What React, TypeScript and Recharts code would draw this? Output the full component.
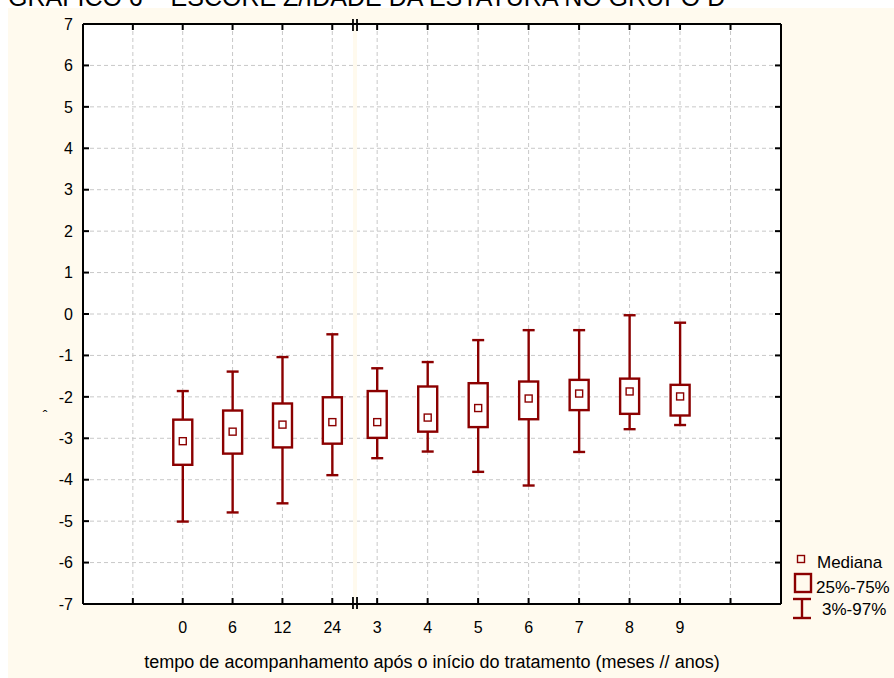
import React from 'react';
import { Bar, CartesianGrid, ComposedChart, ReferenceArea, ReferenceLine, XAxis, YAxis } from 'recharts';

// categorias do eixo x: meses (antes da quebra) e anos (depois)
const mesesLabels = ['0', '6', '12', '24'];
const anosLabels = ['3', '4', '5', '6', '7', '8', '9'];

// escore Z por tempo de acompanhamento
const minimos = [-5.01, -4.79, -4.57, -3.89, -3.48, -3.32, -3.81, -4.14, -3.33, -2.78, -2.68];
const quartil1 = [-3.64, -3.37, -3.22, -3.13, -2.99, -2.84, -2.73, -2.54, -2.32, -2.41, -2.45];
const medianas = [-3.07, -2.84, -2.67, -2.61, -2.61, -2.5, -2.27, -2.04, -1.92, -1.87, -1.99];
const quartil3 = [-2.55, -2.33, -2.16, -2.01, -1.86, -1.75, -1.67, -1.63, -1.59, -1.56, -1.71];
const maximos = [-1.86, -1.39, -1.04, -0.49, -1.31, -1.16, -0.63, -0.39, -0.39, -0.03, -0.21];

const yTicks = [-7, -6, -5, -4, -3, -2, -1, 0, 1, 2, 3, 4, 5, 6, 7];

const TITLE = 'GRÁFICO 6 – ESCORE Z/IDADE DA ESTATURA NO GRUPO D';
const X_LABEL = 'tempo de acompanhamento após o início do tratamento (meses // anos)';

const RED = '#8B0000';
const CREAM = '#FFFAEE';
const FONT = '"Liberation Sans", Arial, sans-serif';

// geometria do gráfico
const W = 894;
const H = 678;
const MARGIN = { top: 24, right: 103, bottom: 44, left: 43 };
const Y_AXIS_W = 40;
const Y_AXIS_R_W = 10;
const X_AXIS_H = 30;
const PLOT = {
  left: MARGIN.left + Y_AXIS_W,
  top: MARGIN.top,
  width: W - MARGIN.left - Y_AXIS_W - MARGIN.right - Y_AXIS_R_W,
  height: H - MARGIN.top - MARGIN.bottom - X_AXIS_H,
};

// posições no eixo numérico (a quebra encurta um pouco o intervalo 24 -> 3)
const posMeses = (i: number) => i + 2;
const posAnos = (j: number) => 5.9 + j * 1.0125;
const BREAK_X1 = 5.415;
const BREAK_X2 = 5.496;

const labels = [...mesesLabels, ...anosLabels];
const positions = [...mesesLabels.map((_, i) => posMeses(i)), ...anosLabels.map((_, j) => posAnos(j))];
const xTicks = [1, ...positions, posAnos(7)];
const tickLabel = new Map(positions.map((p, i) => [p, labels[i]]));

const data = labels.map((label, i) => ({
  pos: positions[i],
  label,
  range: [minimos[i], maximos[i]],
  min: minimos[i],
  q1: quartil1[i],
  median: medianas[i],
  q3: quartil3[i],
  max: maximos[i],
}));

const BoxShape = (props: any) => {
  const { x, y, width, height, payload } = props;
  const top = Math.min(y, y + height);
  const h = Math.abs(height);
  const { min, q1, median, q3, max } = payload;
  const py = (v: number) => top + ((max - v) / (max - min)) * h;
  const cx = x + width / 2;
  return (
    <g>
      <line x1={cx} x2={cx} y1={py(max)} y2={py(q3)} stroke={RED} strokeWidth={2.4} />
      <line x1={cx} x2={cx} y1={py(q1)} y2={py(min)} stroke={RED} strokeWidth={2.4} />
      <line x1={cx - 6} x2={cx + 6} y1={py(max)} y2={py(max)} stroke={RED} strokeWidth={2.4} />
      <line x1={cx - 6} x2={cx + 6} y1={py(min)} y2={py(min)} stroke={RED} strokeWidth={2.4} />
      <rect x={x + 1} y={py(q3)} width={width - 2} height={py(q1) - py(q3)} fill="#fff" stroke={RED} strokeWidth={2.4} />
      <rect x={cx - 3.5} y={py(median) - 3.5} width={7} height={7} fill="#fff" stroke={RED} strokeWidth={1.4} />
    </g>
  );
};

const BreakShape = (props: any) => {
  const { x, y, width, height } = props;
  return (
    <g>
      <rect x={x} y={y + 1.5} width={width} height={height - 3} fill={CREAM} />
      {[x, x + width].map((lx) => (
        <g key={lx}>
          <line x1={lx} x2={lx} y1={y - 5} y2={y + 7} stroke="#000" strokeWidth={1.8} />
          <line x1={lx} x2={lx} y1={y + height - 7} y2={y + height + 5} stroke="#000" strokeWidth={1.8} />
        </g>
      ))}
    </g>
  );
};

// marca interna embaixo e no topo do quadro, mais o rótulo
const BottomTick = (p: any) => (
  <g>
    <line x1={p.x} x2={p.x} y1={p.y} y2={p.y - 6} stroke="#000" strokeWidth={2} />
    <line x1={p.x} x2={p.x} y1={p.y - PLOT.height} y2={p.y - PLOT.height + 6} stroke="#000" strokeWidth={2} />
    <text x={p.x} y={p.y + 29} textAnchor="middle" fontSize={16} fill="#000" fontFamily={FONT}>
      {tickLabel.get(p.payload.value) ?? ''}
    </text>
  </g>
);

const LeftTick = (p: any) => (
  <g>
    <line x1={p.x} x2={p.x + 6} y1={p.y} y2={p.y} stroke="#000" strokeWidth={2} />
    <text x={p.x - 10} y={p.y} dy="0.36em" textAnchor="end" fontSize={16} fill="#000" fontFamily={FONT}>
      {p.payload.value}
    </text>
  </g>
);

const RightTick = (p: any) => (
  <line x1={p.x} x2={p.x - 6} y1={p.y} y2={p.y} stroke="#000" strokeWidth={2} />
);

const axisLine = { stroke: '#000', strokeWidth: 2 };

export default function App() {
  return (
    <div style={{ position: 'absolute', left: 0, top: 0, width: W, height: H, background: '#fff', overflow: 'hidden' }}>
      <div style={{ position: 'absolute', left: 8, top: 8, width: W - 8, height: H - 8, background: CREAM }} />
      <div
        style={{
          position: 'absolute',
          left: PLOT.left,
          top: PLOT.top,
          width: PLOT.width,
          height: PLOT.height,
          background: '#fff',
        }}
      />
      <div style={{ position: 'absolute', left: 0, top: 0 }}>
        <ComposedChart width={W} height={H} data={data} margin={MARGIN}>
          <CartesianGrid stroke="#c8c8c8" strokeDasharray="4 3" />
          <XAxis
            dataKey="pos"
            type="number"
            domain={[0, 14]}
            ticks={xTicks}
            interval={0}
            height={X_AXIS_H}
            tickSize={0}
            tickMargin={0}
            tickLine={false}
            axisLine={axisLine}
            tick={<BottomTick />}
            allowDataOverflow
          />
          <YAxis
            type="number"
            domain={[-7, 7]}
            ticks={yTicks}
            interval={0}
            width={Y_AXIS_W}
            tickSize={0}
            tickMargin={0}
            tickLine={false}
            axisLine={axisLine}
            tick={<LeftTick />}
            allowDataOverflow
          />
          <YAxis
            yAxisId="right"
            orientation="right"
            type="number"
            domain={[-7, 7]}
            ticks={yTicks}
            interval={0}
            width={Y_AXIS_R_W}
            tickSize={0}
            tickMargin={0}
            tickLine={false}
            axisLine={axisLine}
            tick={<RightTick />}
            allowDataOverflow
          />
          <ReferenceLine y={7} stroke="#000" strokeWidth={2} ifOverflow="visible" />
          <ReferenceArea x1={BREAK_X1} x2={BREAK_X2} shape={<BreakShape />} ifOverflow="visible" />
          <Bar dataKey="range" barSize={21} shape={<BoxShape />} activeBar={false} isAnimationActive={false} />
        </ComposedChart>
      </div>
      <svg width={W} height={H} style={{ position: 'absolute', left: 0, top: 0, pointerEvents: 'none' }} fontFamily={FONT}>
        <text x={8} y={6} fontSize={25} fill="#000">{TITLE}</text>
        <text x={45} y={421} fontSize={14} fill="#000" textAnchor="middle">ˆ</text>
        <text x={432} y={668} fontSize={18} fill="#000" textAnchor="middle">{X_LABEL}</text>
        <rect x={797.5} y={555.5} width={7} height={7} fill="none" stroke={RED} strokeWidth={1.4} />
        <text x={817} y={568} fontSize={17} fill="#000">Mediana</text>
        <rect x={795} y={574} width={16} height={18} fill="none" stroke={RED} strokeWidth={2.4} />
        <text x={816} y={593} fontSize={17} fill="#000">25%-75%</text>
        <line x1={802} x2={802} y1={599} y2={618} stroke={RED} strokeWidth={2.4} />
        <line x1={793} x2={811} y1={599} y2={599} stroke={RED} strokeWidth={2.4} />
        <line x1={793} x2={811} y1={618} y2={618} stroke={RED} strokeWidth={2.4} />
        <text x={822} y={615} fontSize={17} fill="#000">3%-97%</text>
      </svg>
    </div>
  );
}
